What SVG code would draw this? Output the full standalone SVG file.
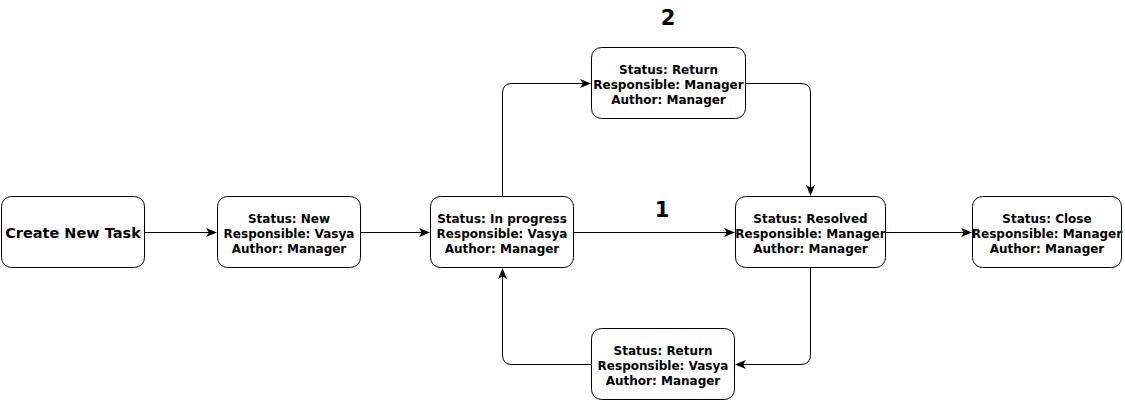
<svg xmlns="http://www.w3.org/2000/svg" width="1125" height="413" viewBox="0 0 1125 413">
<style>
.box{fill:#fff;stroke:#000;stroke-width:1}
.t{font-family:"DejaVu Sans",sans-serif;font-weight:bold;font-size:12px;text-anchor:middle;fill:#000}
.big{font-family:"DejaVu Sans",sans-serif;font-weight:bold;font-size:21px;text-anchor:middle;fill:#000}
.c{fill:none;stroke:#000;stroke-width:1}
</style>
<defs>
<marker id="arr" viewBox="0 0 10 10" refX="9" refY="5" markerWidth="11" markerHeight="11" markerUnits="userSpaceOnUse" orient="auto">
<path d="M0,1 L10,5 L0,9 L2.5,5 Z" fill="#000"/>
</marker>
</defs>
<rect width="1125" height="413" fill="#fff"/>
<g id="connectors">
<path class="c" d="M145,232.5 H216" marker-end="url(#arr)"/>
<path class="c" d="M361,232.5 H429" marker-end="url(#arr)"/>
<path class="c" d="M574,232.5 H734" marker-end="url(#arr)"/>
<path class="c" d="M886,232.5 H971" marker-end="url(#arr)"/>
<path class="c" d="M502.5,196 V93 Q502.5,83.5 512,83.5 H590" marker-end="url(#arr)"/>
<path class="c" d="M746,83.5 H801 Q810.5,83.5 810.5,93 V195" marker-end="url(#arr)"/>
<path class="c" d="M810.5,268 V354 Q810.5,364.5 801,364.5 H736" marker-end="url(#arr)"/>
<path class="c" d="M591,364.5 H512 Q502.5,364.5 502.5,355 V269" marker-end="url(#arr)"/>
</g>
<g id="create">
<rect class="box" x="1.5" y="196.5" width="143" height="71" rx="10"/>
<text class="t" style="font-size:14.5px" x="73" y="237.5">Create New Task</text>
</g>
<g id="new">
<rect class="box" x="217.5" y="196.5" width="143" height="71" rx="10"/>
<text class="t" x="289" y="223">Status: New</text>
<text class="t" x="289" y="238">Responsible: Vasya</text>
<text class="t" x="289" y="253">Author: Manager</text>
</g>
<g id="inprogress">
<rect class="box" x="430.5" y="196.5" width="143" height="71" rx="10"/>
<text class="t" x="502" y="223">Status: In progress</text>
<text class="t" x="502" y="238">Responsible: Vasya</text>
<text class="t" x="502" y="253">Author: Manager</text>
</g>
<g id="resolved">
<rect class="box" x="735.5" y="196.5" width="150" height="71" rx="10"/>
<text class="t" x="810.5" y="223">Status: Resolved</text>
<text class="t" x="810.5" y="238">Responsible: Manager</text>
<text class="t" x="810.5" y="253">Author: Manager</text>
</g>
<g id="close">
<rect class="box" x="972.5" y="196.5" width="149" height="71" rx="10"/>
<text class="t" x="1047" y="223">Status: Close</text>
<text class="t" x="1047" y="238">Responsible: Manager</text>
<text class="t" x="1047" y="253">Author: Manager</text>
</g>
<g id="returnTop">
<rect class="box" x="591.5" y="47.5" width="154" height="71" rx="10"/>
<text class="t" x="668.5" y="74">Status: Return</text>
<text class="t" x="668.5" y="89">Responsible: Manager</text>
<text class="t" x="668.5" y="104">Author: Manager</text>
</g>
<g id="returnBottom">
<rect class="box" x="591.5" y="328.5" width="143" height="71" rx="10"/>
<text class="t" x="663" y="355">Status: Return</text>
<text class="t" x="663" y="370">Responsible: Vasya</text>
<text class="t" x="663" y="385">Author: Manager</text>
</g>
<g id="labels">
<text class="big" x="662" y="217">1</text>
<text class="big" x="668" y="25">2</text>
</g>
</svg>
